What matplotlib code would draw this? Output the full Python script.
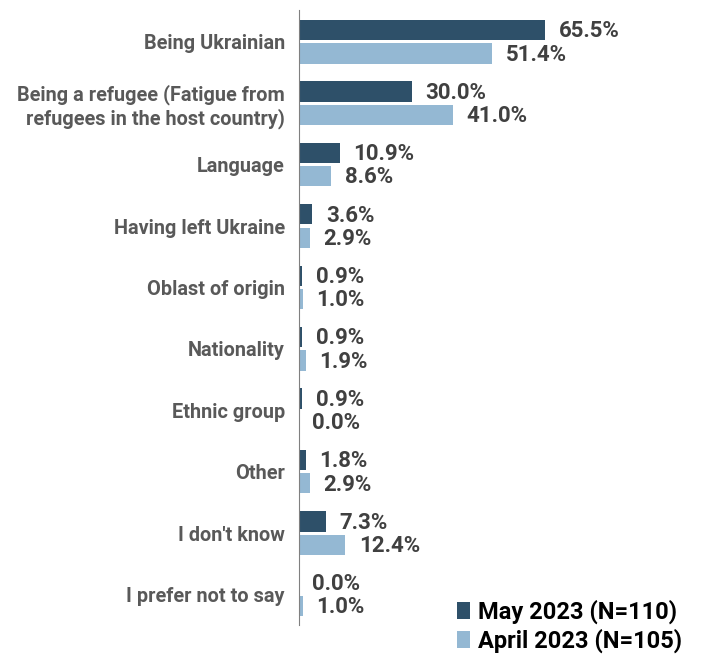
import numpy as np
import matplotlib.pyplot as plt

categories = ["Being Ukrainian",
              "Being a refugee (Fatigue from\nrefugees in the host country)",
              "Language", "Having left Ukraine", "Oblast of origin",
              "Nationality", "Ethnic group", "Other", "I don't know",
              "I prefer not to say"]
may_2023 = [65.5, 30.0, 10.9, 3.6, 0.9, 0.9, 0.9, 1.8, 7.3, 0.0]
april_2023 = [51.4, 41.0, 8.6, 2.9, 1.0, 1.9, 0.0, 2.9, 12.4, 1.0]
series_names = ["May 2023 (N=110)", "April 2023 (N=105)"]

plt.rcParams['font.family'] = ['Roboto', 'DejaVu Sans']

dark = '#2e5069'
light = '#94b8d3'

fig = plt.figure(figsize=(7.03, 6.54), dpi=100)
ax = fig.add_axes([0.425, 0.044, 0.5, 0.941])

y = np.arange(len(categories))
h = 0.33
ax.barh(y - 0.19, may_2023, height=h, color=dark, label=series_names[0])
ax.barh(y + 0.19, april_2023, height=h, color=light, label=series_names[1])

# value labels
for yi, v in zip(y, may_2023):
    ax.text(v + 3.6, yi - 0.17, f"{v:.1f}%", va='center', ha='left',
            fontsize=16, fontweight='bold', color='#404040')
for yi, v in zip(y, april_2023):
    ax.text(v + 3.6, yi + 0.21, f"{v:.1f}%", va='center', ha='left',
            fontsize=16, fontweight='bold', color='#404040')

ax.set_ylim(9.5, -0.52)
ax.set_xlim(0, 93.4)
ax.set_yticks(y)
ax.set_yticklabels(categories, fontsize=14.3, fontweight='bold', color='#595959')
ax.tick_params(axis='y', length=0, pad=10)
ax.set_xticks([])
for s in ['top', 'right', 'bottom']:
    ax.spines[s].set_visible(False)
ax.spines['left'].set_color('#808080')

fig.legend(loc='lower left', bbox_to_anchor=(0.626, -0.024), frameon=False,
           prop={'size': 17, 'weight': 'bold'}, handlelength=0.55,
           handleheight=0.75, handletextpad=0.35, labelspacing=0.2,
           borderpad=0.2)

fig.savefig('out.png', dpi=100)
